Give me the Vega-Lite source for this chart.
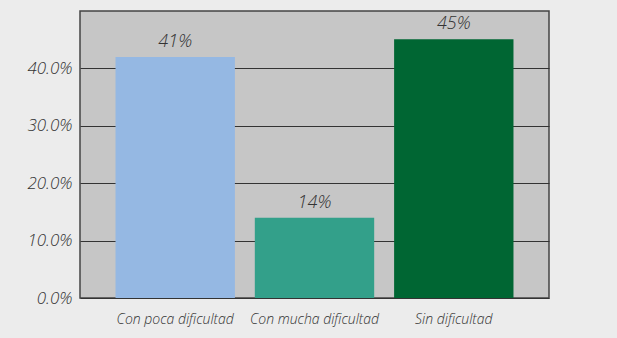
{
  "$schema": "https://vega.github.io/schema/vega-lite/v6.json",
  "autosize": "none",
  "width": 469,
  "height": 287,
  "padding": {"left": 80, "top": 11, "right": 68, "bottom": 40},
  "background": "#ececec",
  "data": {"values": [
    {"cat": "Con poca dificultad", "value": 0.42, "label": "41%"},
    {"cat": "Con  mucha dificultad", "value": 0.14, "label": "14%"},
    {"cat": "Sin dificultad", "value": 0.451, "label": "45%"}
  ]},
  "encoding": {
    "x": {"field": "cat", "type": "nominal", "sort": null,
      "scale": {"paddingInner": 0.143, "paddingOuter": 0.255},
      "axis": {"title": null, "labelAngle": 0, "ticks": false, "domain": false,
        "labelPadding": 14, "labelFont": "Open Sans", "labelFontStyle": "italic",
        "labelFontWeight": 300, "labelFontSize": 14, "labelColor": "#333333"}},
    "y": {"field": "value", "type": "quantitative",
      "scale": {"domain": [0, 0.5]},
      "axis": {"title": null, "format": ".1%", "values": [0, 0.1, 0.2, 0.3, 0.4],
        "ticks": false, "domain": false, "labelPadding": 8,
        "grid": true, "gridColor": "#333333", "gridWidth": 1, "gridOpacity": 1,
        "labelFont": "Open Sans", "labelFontStyle": "italic", "labelFontWeight": 300,
        "labelFontSize": 17, "labelColor": "#333333"}}
  },
  "layer": [
    {"mark": {"type": "bar"},
     "encoding": {"color": {"field": "cat", "type": "nominal", "sort": null, "legend": null,
        "scale": {"range": ["#95b8e3", "#33a08a", "#006633"]}}}},
    {"mark": {"type": "text", "baseline": "bottom", "dy": -6, "font": "Open Sans",
        "fontStyle": "italic", "fontWeight": 300, "fontSize": 18, "color": "#333333"},
     "encoding": {"text": {"field": "label"}}}
  ],
  "config": {
    "view": {"fill": "#c6c6c6", "stroke": "#444444", "strokeWidth": 1.5}
  }
}
